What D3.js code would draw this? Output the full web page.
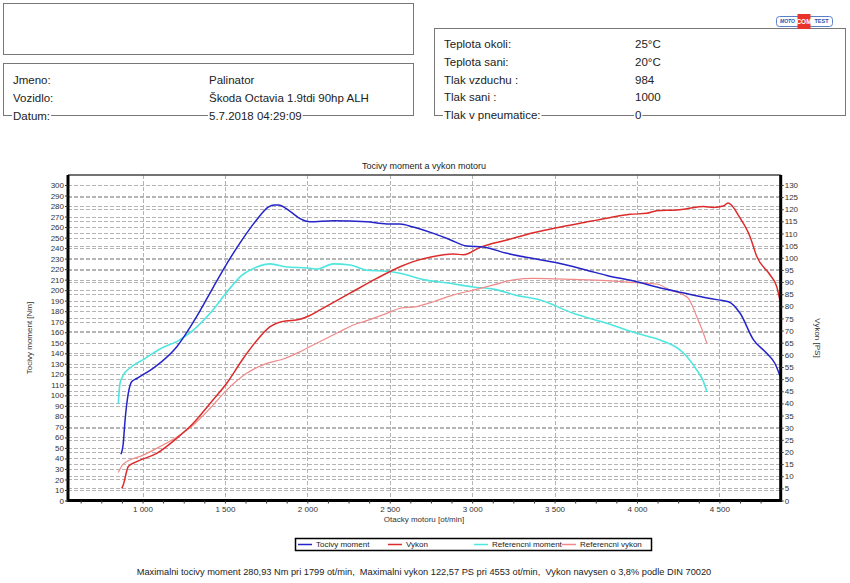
<!DOCTYPE html>
<html><head><meta charset="utf-8">
<script src="https://cdn.jsdelivr.net/npm/d3@7"></script>
<style>
html,body{margin:0;padding:0;background:#fff;}
svg text{font-family:"Liberation Sans",Arial,sans-serif;}
</style></head>
<body><svg id="c" width="850" height="583"></svg>
<script>
// ---- data ----
const torque = [[869,44],[883,54],[894,76],[914,102],[934,113],[965,116],[1076,127],[1207,146],[1329,175],[1430,203],[1511,225],[1592,245],[1693,267],[1763,279],[1799,281],[1824,281],[1895,275],[1956,268],[2016,265],[2158,266],[2360,265],[2482,263],[2562,263],[2643,260],[2765,254],[2866,248],[2967,242],[3068,241],[3210,235],[3371,230],[3513,226],[3695,219],[3817,214],[3999,208],[4120,203],[4262,198],[4383,194],[4484,191],[4555,189],[4626,178],[4706,153],[4787,140],[4838,130],[4869,118]];
const power = [[874,5],[883,6.4],[914,14],[965,16],[1086,19.4],[1207,25.6],[1308,31.8],[1410,40],[1511,48.3],[1612,58.6],[1713,67.5],[1774,71.6],[1845,73.7],[1956,74.7],[2012,76.1],[2077,78.5],[2259,85.4],[2421,91.5],[2563,96.3],[2643,98.4],[2765,100.5],[2886,101.6],[2947,101.2],[3048,104.3],[3210,107.3],[3371,110.3],[3513,112.4],[3655,114.2],[3817,116.3],[3958,117.9],[4059,118.3],[4120,119.4],[4241,119.7],[4302,120.2],[4403,121.1],[4464,120.7],[4524,121.3],[4553,122.6],[4626,116.3],[4686,108.7],[4727,100.5],[4808,92.9],[4848,88.1],[4869,81.9]];
const refTorque = [[853,92],[863,111],[883,119],[924,126],[1005,134],[1106,144],[1228,153],[1308,162],[1410,178],[1511,198],[1602,214],[1693,222],[1774,225],[1875,222],[2006,221],[2057,220],[2158,225],[2259,224],[2360,219],[2482,218],[2563,216],[2704,210],[2866,206.5],[3007,203],[3129,201],[3271,195],[3413,190.6],[3614,178],[3817,168.5],[3999,159],[4140,152.6],[4262,143],[4302,137],[4363,124],[4403,113],[4424,103.5]];
const refPower = [[853,11.5],[883,15],[1005,18.7],[1106,22.2],[1228,27],[1308,31.1],[1410,38],[1511,45.5],[1632,52.4],[1754,56.5],[1854,58.3],[1956,61.3],[2057,64.8],[2198,69.6],[2279,72.3],[2360,74.1],[2482,77.1],[2563,79.2],[2664,79.9],[2765,81.9],[2886,84.7],[3007,86.7],[3129,88.8],[3250,90.9],[3371,91.5],[3614,91.1],[3817,90.6],[3999,89.7],[4120,89.2],[4201,86.7],[4282,84.7],[4312,83.3],[4363,75.7],[4403,68.9],[4424,64.8]];
const xTicks = [1000,1500,2000,2500,3000,3500,4000,4500];
const leftTicks = d3.range(0,301,10);
const rightTicks = d3.range(0,131,5);
const seriesNames = ["Tocivy moment","Vykon","Referencni moment","Referencni vykon"];
const seriesColors = ["#2424c8","#dd2a2a","#4fe6e0","#f08a8a"];
const infoLeftLabels = ["Jmeno:","Vozidlo:","Datum:"];
const infoLeftValues = ["Palinator","Škoda Octavia 1.9tdi 90hp ALH","5.7.2018 04:29:09"];
const infoRightLabels = ["Teplota okoli:","Teplota sani:","Tlak vzduchu :","Tlak sani :","Tlak v pneumatice:"];
const infoRightValues = ["25°C","20°C","984","1000","0"];
const chartTitle = "Tocivy moment a vykon motoru";
const footer = "Maximalni tocivy moment 280,93 Nm pri 1799 ot/min,  Maximalni vykon 122,57 PS pri 4553 ot/min,  Vykon navysen o 3,8% podle DIN 70020";

// ---- drawing ----
const svg = d3.select("#c");
const fmt = d => d3.format(",")(d).replace(",", " ");

// header boxes
svg.append("rect").attr("x",3.5).attr("y",3.5).attr("width",410).attr("height",51)
  .attr("fill","none").attr("stroke","#777").attr("stroke-width",1);
svg.append("rect").attr("x",3.5).attr("y",63.5).attr("width",410).attr("height",52)
  .attr("fill","none").attr("stroke","#777").attr("stroke-width",1);
svg.append("rect").attr("x",434.5).attr("y",28.5).attr("width",411).attr("height",87)
  .attr("fill","none").attr("stroke","#777").attr("stroke-width",1);

function infoRows(labels, values, xl, xv, ys){
  labels.forEach((t,i)=>{
    [[t,xl],[values[i],xv]].forEach(([s,xx])=>{
      const g = svg.append("g");
      const tx = g.append("text").attr("x",xx).attr("y",ys[i]).attr("dy","0.35em")
        .attr("font-size",11.5).attr("fill","#222").text(s);
      if(i===labels.length-1){
        const bb = tx.node().getBBox();
        g.insert("rect","text").attr("x",bb.x-1).attr("y",ys[i]-1).attr("width",bb.width+2).attr("height",3).attr("fill","#fff");
      }
    });
  });
}
infoRows(infoLeftLabels, infoLeftValues, 13, 209, [80,98,116]);
infoRows(infoRightLabels, infoRightValues, 444, 635, [44,62,80,97,115]);

// logo
const logo = svg.append("g");
logo.append("rect").attr("x",776.5).attr("y",16.5).attr("width",56).attr("height",10).attr("rx",3)
  .attr("fill","#fff").attr("stroke","#5a7fc8").attr("stroke-width",1);
logo.append("rect").attr("x",797.5).attr("y",14).attr("width",13).attr("height",15).attr("fill","#e8322a");
logo.append("text").attr("x",787.5).attr("y",21.5).attr("dy","0.35em").attr("text-anchor","middle")
  .attr("font-size",5).attr("font-weight","bold").attr("font-style","italic").attr("fill","#2a4fa8").text("MOTO");
logo.append("text").attr("x",804).attr("y",21.5).attr("dy","0.35em").attr("text-anchor","middle")
  .attr("font-size",6.5).attr("font-weight","bold").attr("fill","#fff").text("COM");
logo.append("text").attr("x",821.5).attr("y",21.5).attr("dy","0.35em").attr("text-anchor","middle")
  .attr("font-size",5.5).attr("font-weight","bold").attr("fill","#2a4fa8").text("TEST");

// chart
const L=68, R=780.7, T=175, B=500.5;
const x = d3.scaleLinear().domain([548,4872]).range([L,R]);
const yL = d3.scaleLinear().domain([0,309.5]).range([B,T]);
const yR = d3.scaleLinear().domain([0,134.1]).range([B,T]);

const grid = svg.append("g").attr("stroke","#b4b4b4").attr("stroke-width",1).attr("stroke-dasharray","4,2").attr("fill","none");
leftTicks.filter(d=>d>0).forEach(d=>grid.append("line").attr("x1",L).attr("x2",R).attr("y1",Math.round(yL(d))+0.5).attr("y2",Math.round(yL(d))+0.5));
rightTicks.filter(d=>d>0).forEach(d=>grid.append("line").attr("x1",L).attr("x2",R).attr("y1",Math.round(yR(d))+0.5).attr("y2",Math.round(yR(d))+0.5));
xTicks.forEach(d=>grid.append("line").attr("y1",T).attr("y2",B).attr("x1",Math.round(x(d))+0.5).attr("x2",Math.round(x(d))+0.5));

// title
svg.append("text").attr("x",424).attr("y",166).attr("dy","0.35em").attr("text-anchor","middle")
  .attr("font-size",9).attr("fill","#222").text(chartTitle);

// lines
const line = (ys)=>d3.line().x(d=>x(d[0])).y(d=>ys(d[1])).curve(d3.curveMonotoneX);
const plot = svg.append("g");
plot.append("path").datum(refTorque).attr("d",line(yL)).attr("fill","none").attr("stroke",seriesColors[2]).attr("stroke-width",1.6);
plot.append("path").datum(refPower).attr("d",line(yR)).attr("fill","none").attr("stroke",seriesColors[3]).attr("stroke-width",1.2);
plot.append("path").datum(power).attr("d",line(yR)).attr("fill","none").attr("stroke",seriesColors[1]).attr("stroke-width",1.5);
plot.append("path").datum(torque).attr("d",line(yL)).attr("fill","none").attr("stroke",seriesColors[0]).attr("stroke-width",1.5);

// frame
svg.append("line").attr("x1",L).attr("x2",R).attr("y1",T).attr("y2",T).attr("stroke","#444").attr("stroke-width",1.5);

// axes
const axL = svg.append("g").attr("transform",`translate(${L},0)`)
  .call(d3.axisLeft(yL).tickValues(leftTicks).tickSize(3).tickPadding(1).tickFormat(d3.format("d")));
const axR = svg.append("g").attr("transform",`translate(${R},0)`)
  .call(d3.axisRight(yR).tickValues(rightTicks).tickSize(3).tickPadding(1).tickFormat(d3.format("d")));
const minor = d3.range(625,4872,125);
const axB = svg.append("g").attr("transform",`translate(0,${B})`)
  .call(d3.axisBottom(x).tickValues(minor).tickSize(3).tickPadding(2).tickFormat(d=> xTicks.includes(d)? fmt(d):""));
[axL,axR,axB].forEach(a=>{
  a.select(".domain").attr("stroke","#000").attr("stroke-width",3);
  a.selectAll(".tick line").attr("stroke","#333");
  a.selectAll("text").attr("font-size",8).attr("fill","#333").attr("font-family","Liberation Sans, Arial, sans-serif");
});
axB.selectAll("text").attr("dy","0.8em");
axB.select(".domain").attr("d",`M${L},0H${R}`);
axL.select(".domain").attr("d",`M0,${B+1.5}V${T}`);
axR.select(".domain").attr("d",`M0,${B+1.5}V${T}`);

// axis labels
svg.append("text").attr("transform","translate(29,338) rotate(-90)").attr("text-anchor","middle").attr("dy","0.35em")
  .attr("font-size",8).attr("fill","#333").text("Tocivy moment [Nm]");
svg.append("text").attr("transform","translate(818,338) rotate(90)").attr("text-anchor","middle").attr("dy","0.35em")
  .attr("font-size",8).attr("fill","#333").text("Vykon [PS]");
svg.append("text").attr("x",424).attr("y",519.5).attr("text-anchor","middle").attr("dy","0.35em")
  .attr("font-size",8).attr("fill","#333").text("Otacky motoru [ot/min]");

// legend
const lg = svg.append("g");
lg.append("rect").attr("x",295.5).attr("y",538.5).attr("width",356).attr("height",12)
  .attr("fill","#fff").attr("stroke","#000").attr("stroke-width",1.5);
const lgX = [298,388,474,562];
seriesNames.forEach((n,i)=>{
  lg.append("line").attr("x1",lgX[i]).attr("x2",lgX[i]+14).attr("y1",544.5).attr("y2",544.5)
    .attr("stroke",seriesColors[i]).attr("stroke-width",1.5);
  lg.append("text").attr("x",lgX[i]+18).attr("y",544.5).attr("dy","0.35em").attr("font-size",8).attr("fill","#222").text(n);
});

// footer
svg.append("text").attr("x",424).attr("y",572).attr("dy","0.35em").attr("text-anchor","middle")
  .attr("font-size",9.25).attr("fill","#222").attr("xml:space","preserve").style("white-space","pre").text(footer);
</script></body></html>
